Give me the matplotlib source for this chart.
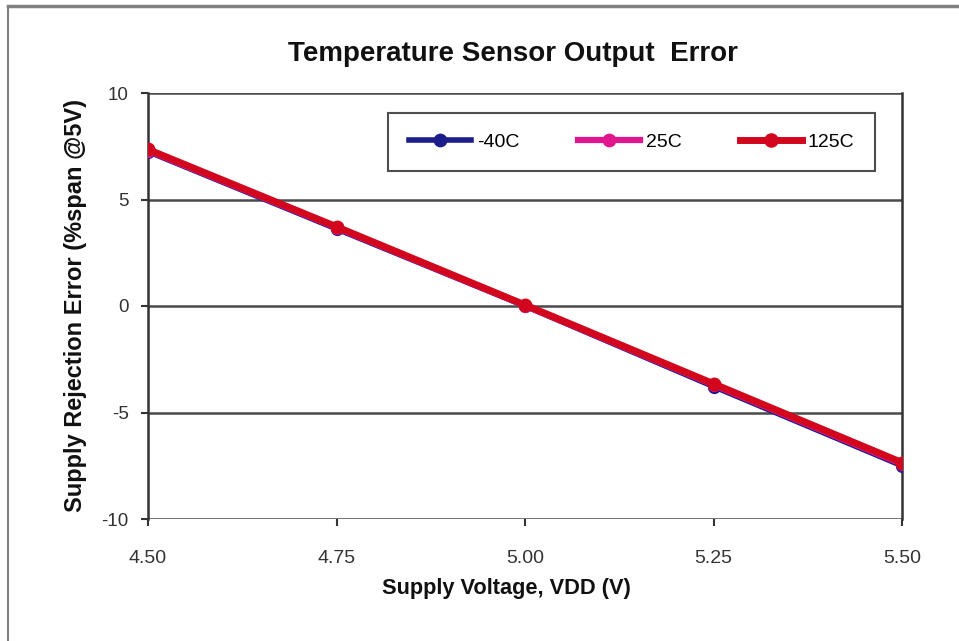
import matplotlib.pyplot as plt
from matplotlib.lines import Line2D

# data
voltage = [4.50, 4.75, 5.00, 5.25, 5.50]
err_m40 = [7.25, 3.62, 0.00, -3.78, -7.50]
err_25 = [7.30, 3.68, 0.02, -3.70, -7.42]
err_125 = [7.35, 3.72, 0.05, -3.65, -7.35]
series_names = ['-40C', '25C', '125C']
xtick_labels = ['4.50', '4.75', '5.00', '5.25', '5.50']
yticks = [-10, -5, 0, 5, 10]
ytick_labels = ['-10', '-5', '0', '5', '10']

plt.rcParams['font.family'] = ['Liberation Sans', 'DejaVu Sans']

fig = plt.figure(figsize=(9.59, 6.41), dpi=100)
ax = fig.add_axes([148/959, 1 - 519/641, 754/959, 426/641])

# outer frame of the original chart (only top and left show)
fig.add_artist(Line2D([8/959, 1], [1 - 6/641, 1 - 6/641], color='#808080', lw=2.5))
fig.add_artist(Line2D([8/959, 8/959], [0, 1 - 6/641], color='#808080', lw=1.5))

ax.plot(voltage, err_m40, color='#1c1c8a', lw=4, marker='o', ms=8.5, label=series_names[0], zorder=3)
ax.plot(voltage, err_25, color='#e0168e', lw=4.5, marker='o', ms=8.5, label=series_names[1], zorder=4)
ax.plot(voltage, err_125, color='#d2061c', lw=5, marker='o', ms=9, label=series_names[2], zorder=5)

ax.set_xlim(4.5, 5.5)
ax.set_ylim(-10, 10)
ax.set_xticks(voltage)
ax.set_xticklabels(xtick_labels, fontsize=14)
ax.set_yticks(yticks)
ax.set_yticklabels(ytick_labels, fontsize=13.5)
ax.yaxis.grid(True, color='#4a4a4a', lw=1.8)
ax.set_axisbelow(True)
for s in ['top', 'bottom']:
    ax.spines[s].set_visible(False)
for s in ['left', 'right']:
    ax.spines[s].set_color('#333333')
    ax.spines[s].set_linewidth(1.8)
ax.tick_params(axis='both', colors='#333333', width=1.5, length=5)
ax.tick_params(axis='x', pad=17)
ax.tick_params(axis='y', pad=9)

ax.set_title('Temperature Sensor Output  Error', fontsize=20, fontweight='bold', pad=23,
             color='#111111', x=0.484)
ax.set_xlabel('Supply Voltage, VDD (V)', fontsize=15.7, fontweight='bold', labelpad=8, color='#111111')
ax.xaxis.label.set_x(0.476)
ax.set_ylabel('Supply Rejection Error (%span @5V)', fontsize=17, fontweight='bold', labelpad=10, color='#111111')

leg = ax.legend(ncol=3, loc='upper right', bbox_to_anchor=(0.964, 0.953), borderaxespad=0,
                fontsize=14, frameon=True, fancybox=False, edgecolor='#222222', borderpad=1.05,
                columnspacing=3.0, handlelength=3.2, handletextpad=0.3, markerscale=1.05)
leg.get_frame().set_linewidth(1.5)

fig.savefig('out.png', dpi=100)
